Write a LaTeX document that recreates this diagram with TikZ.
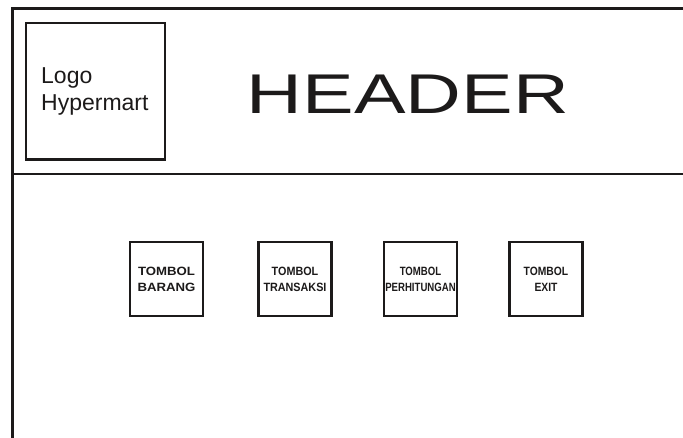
\documentclass[tikz,border=0pt]{standalone}
\usepackage{fontspec}
\setmainfont{Liberation Sans}
\definecolor{ink}{HTML}{1C1A1A}
\begin{document}
\begin{tikzpicture}[x=1pt,y=-1pt,
  frameline/.style={draw=ink,line width=2.6pt},
  logobox/.style={draw=ink,line width=2.2pt,minimum width=139pt,minimum height=136.5pt,inner sep=0pt},
  btnbox/.style={draw=ink,line width=2.7pt,minimum width=73pt,minimum height=74pt,inner sep=0pt,
    align=center,text=ink,font=\bfseries\fontsize{12}{16}\selectfont}]
\useasboundingbox (0,0) rectangle (683,437);
\fill[white] (0,0) rectangle (683,437);
\begin{scope}
\clip (0,0) rectangle (683,437);
\coordinate (tl) at (12.5,8.7);
\coordinate (tr) at (700,8.7);
\coordinate (bl) at (12.5,460);
\coordinate (dl) at (12.5,174);
\coordinate (dr) at (700,174);
\draw[frameline] (tr) -- (tl) -- (bl);
\draw[frameline] (dl) -- (dr);
\end{scope}
\node[logobox] (logo) at (95.5,91.2) {};
\node[anchor=base west,align=left,text=ink,font=\fontsize{23}{27}\selectfont,inner sep=0pt] (logotext) at (41,110) {Logo\\Hypermart};
\node[anchor=base,text=ink,inner sep=0pt] (header) at (408,113) {\scalebox{1.38}[1]{\fontsize{56}{56}\selectfont HEADER}};
\node[btnbox] (b1) at (166.5,279) {\scalebox{1.1}[1]{TOMBOL}\\\scalebox{1.1}[1]{BARANG}};
\node[btnbox] (b2) at (295,279) {\scalebox{0.9}[1]{TOMBOL}\\\scalebox{0.9}[1]{TRANSAKSI}};
\node[btnbox] (b3) at (420.5,279) {\scalebox{0.8}[1]{TOMBOL}\\\scalebox{0.8}[1]{PERHITUNGAN}};
\node[btnbox] (b4) at (546,279) {\scalebox{0.86}[1]{TOMBOL}\\\scalebox{0.86}[1]{EXIT}};
\end{tikzpicture}
\end{document}
